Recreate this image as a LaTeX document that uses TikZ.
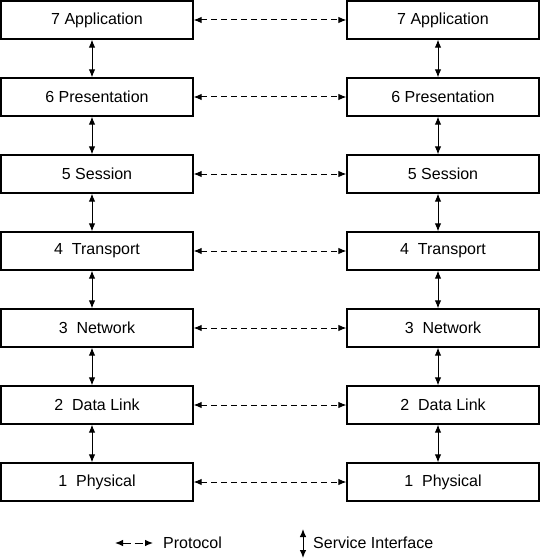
\documentclass[tikz,border=0pt]{standalone}
\usepackage{fontspec}
\setmainfont{Liberation Sans}
\usepackage{tikz}
\usetikzlibrary{arrows.meta}

\tikzset{
    layer/.style={draw, line width=1.3pt, minimum width=192pt, minimum height=38pt, inner sep=0pt, font=\fontsize{16}{19}\selectfont},
    service/.style={{Latex[length=8pt,width=6.5pt]}-{Latex[length=8pt,width=6.5pt]}, line width=1pt},
    protocol/.style={{Latex[length=8pt,width=6.5pt]}-{Latex[length=8pt,width=6.5pt]}, line width=1pt, dash pattern=on 6pt off 4pt}
}

\begin{document}
\begin{tikzpicture}[x=1pt,y=-1pt]
                \useasboundingbox (0,0) rectangle (540,559);
                % left stack
                \node[layer] (L7) at (97,20) {7 Application};
                \node[layer] (L6) at (97,97) {6 Presentation};
                \node[layer] (L5) at (97,174) {5 Session};
                \node[layer] (L4) at (97,251) {4\ \ Transport};
                \node[layer] (L3) at (97,328) {3\ \ Network};
                \node[layer] (L2) at (97,405) {2\ \ Data Link};
                \node[layer] (L1) at (97,482) {1\ \ Physical};
                % right stack
                \node[layer] (R7) at (443,20) {7 Application};
                \node[layer] (R6) at (443,97) {6 Presentation};
                \node[layer] (R5) at (443,174) {5 Session};
                \node[layer] (R4) at (443,251) {4\ \ Transport};
                \node[layer] (R3) at (443,328) {3\ \ Network};
                \node[layer] (R2) at (443,405) {2\ \ Data Link};
                \node[layer] (R1) at (443,482) {1\ \ Physical};
                % service interfaces
                \draw[service] ([xshift=-5pt]L7.south) -- ([xshift=-5pt]L6.north);
                \draw[service] ([xshift=-5pt]L6.south) -- ([xshift=-5pt]L5.north);
                \draw[service] ([xshift=-5pt]L5.south) -- ([xshift=-5pt]L4.north);
                \draw[service] ([xshift=-5pt]L4.south) -- ([xshift=-5pt]L3.north);
                \draw[service] ([xshift=-5pt]L3.south) -- ([xshift=-5pt]L2.north);
                \draw[service] ([xshift=-5pt]L2.south) -- ([xshift=-5pt]L1.north);
                \draw[service] ([xshift=-5pt]R7.south) -- ([xshift=-5pt]R6.north);
                \draw[service] ([xshift=-5pt]R6.south) -- ([xshift=-5pt]R5.north);
                \draw[service] ([xshift=-5pt]R5.south) -- ([xshift=-5pt]R4.north);
                \draw[service] ([xshift=-5pt]R4.south) -- ([xshift=-5pt]R3.north);
                \draw[service] ([xshift=-5pt]R3.south) -- ([xshift=-5pt]R2.north);
                \draw[service] ([xshift=-5pt]R2.south) -- ([xshift=-5pt]R1.north);
                % protocols
                \draw[protocol] (L7) -- (R7);
                \draw[protocol] (L6) -- (R6);
                \draw[protocol] (L5) -- (R5);
                \draw[protocol] (L4) -- (R4);
                \draw[protocol] (L3) -- (R3);
                \draw[protocol] (L2) -- (R2);
                \draw[protocol] (L1) -- (R1);
                % legend
                \coordinate (pa) at (115,543);
                \coordinate (pb) at (153,543);
                \draw[protocol, dash pattern=on 8pt off 4pt] (pa) -- (pb);
                \node[anchor=west, font=\fontsize{16}{19}\selectfont, inner sep=0pt] (plabel) at (163,543) {Protocol};
                \coordinate (sa) at (303,529);
                \coordinate (sb) at (303,558);
                \draw[service] (sa) -- (sb);
                \node[anchor=west, font=\fontsize{16}{19}\selectfont, inner sep=0pt] (slabel) at (313,543) {Service Interface};
            \end{tikzpicture}
\end{document}
